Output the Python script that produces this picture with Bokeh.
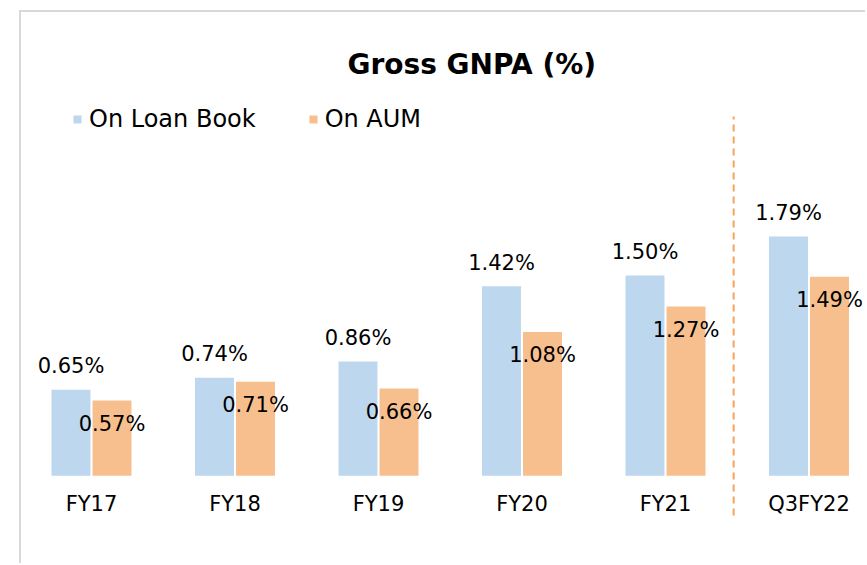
import numpy as np
from bokeh.plotting import figure
from bokeh.models import ColumnDataSource, Range1d, FixedTicker, Legend, LegendItem
from bokeh.transform import dodge
from bokeh.embed import file_html
from bokeh.resources import INLINE

# ---- data ----
categories = ["FY17", "FY18", "FY19", "FY20", "FY21", "Q3FY22"]
loan_book = [0.65, 0.74, 0.86, 1.42, 1.50, 1.79]
aum = [0.57, 0.71, 0.66, 1.08, 1.27, 1.49]
series_names = ["On Loan Book", "On AUM"]
title_text = "Gross GNPA (%)"

# ---- styling constants ----
BLUE = "#BDD7EE"
ORANGE = "#F8BF8E"
DASH = "#F5A35C"
FONT = "DejaVu Sans"
OFFSET = 0.1429
BAR_W = 0.282
SEP_X = 4.475
SEP_Y = (-0.29, 2.677)

idx = np.arange(len(categories))
src = ColumnDataSource(dict(
    x=idx,
    loan=loan_book,
    aum=aum,
    loan_lbl=[f"{v:.2f}%" for v in loan_book],
    aum_lbl=[f"{v:.2f}%" for v in aum],
))

p = figure(width=846, height=553, output_backend="svg", toolbar_location=None,
           x_range=Range1d(-0.4878, 5.4077), y_range=Range1d(-0.6171, 2.7955),
           min_border_left=0, min_border_right=0, min_border_top=88, min_border_bottom=6,
           styles={"margin-left": "19px", "margin-top": "10px",
                   "border-left": "2px solid #d9d9d9", "border-top": "2px solid #d9d9d9"})
p.outline_line_color = None
p.grid.visible = False
p.yaxis.visible = False
p.background_fill_color = "white"
p.border_fill_color = "white"

r1 = p.vbar(x=dodge("x", -OFFSET), top="loan", width=BAR_W, source=src,
            fill_color=BLUE, line_color="white", line_width=1.5)
r2 = p.vbar(x=dodge("x", OFFSET), top="aum", width=BAR_W, source=src,
            fill_color=ORANGE, line_color="white", line_width=1.5)

p.text(x=dodge("x", -OFFSET), y="loan", text="loan_lbl", source=src,
       text_align="center", text_baseline="alphabetic", y_offset=-23,
       text_font_size="21px", text_font={"value": FONT}, text_color="black")
p.text(x=dodge("x", OFFSET), y="aum", text="aum_lbl", source=src,
       text_align="center", text_baseline="alphabetic", y_offset=24,
       text_font_size="21px", text_font={"value": FONT}, text_color="black")

p.segment(x0=[SEP_X], y0=[SEP_Y[0]], x1=[SEP_X], y1=[SEP_Y[1]],
          line_color=DASH, line_width=2, line_dash="7 5")

xa = p.xaxis[0]
xa.ticker = FixedTicker(ticks=list(idx))
xa.major_label_overrides = {int(i): c for i, c in zip(idx, categories)}
xa.fixed_location = 0
xa.axis_line_color = None
xa.major_tick_line_color = None
xa.minor_tick_line_color = None
xa.major_label_standoff = 10
xa.major_label_text_font = FONT
xa.major_label_text_font_size = "21px"
xa.major_label_text_color = "black"

p.title.text = title_text
p.title.align = "left"
p.title.offset = 326
p.title.text_font = FONT
p.title.text_font_size = "28px"
p.title.text_font_style = "bold"
p.title.text_color = "black"
p.title.standoff = 39

legend = Legend(items=[LegendItem(label=series_names[0], renderers=[r1]),
                       LegendItem(label=series_names[1], renderers=[r2])],
                orientation="horizontal", location=(50, 426),
                padding=0, margin=0, spacing=51, label_standoff=6,
                glyph_width=12, glyph_height=12,
                label_text_font=FONT, label_text_font_size="24px",
                label_text_color="black", border_line_color=None,
                background_fill_alpha=0)
p.add_layout(legend)

open("out.html", "w").write(file_html(p, INLINE))
